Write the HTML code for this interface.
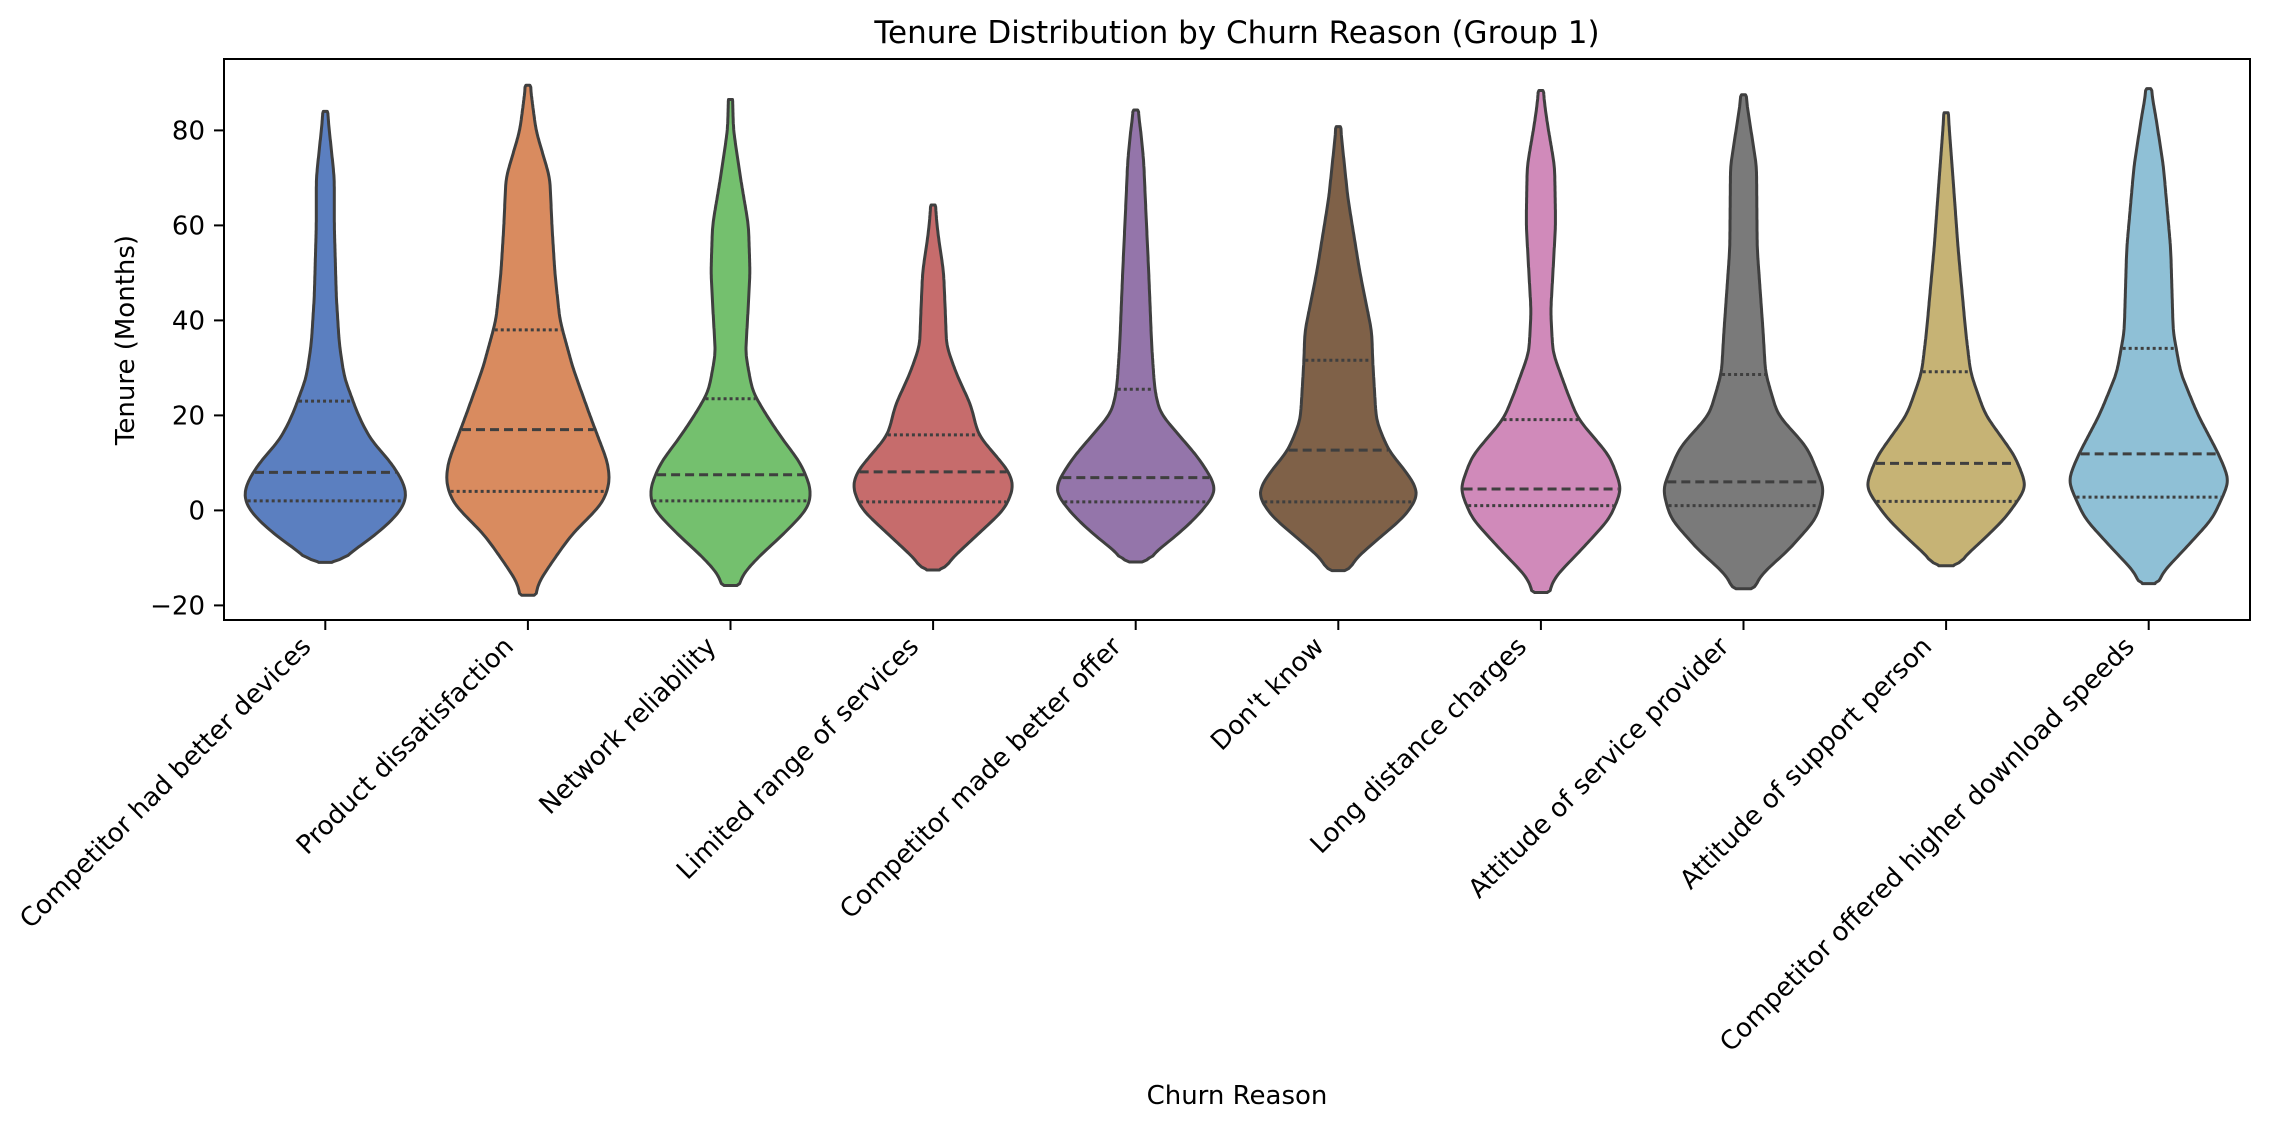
<!DOCTYPE html>
<html><head><meta charset="utf-8"><style>
html,body{margin:0;padding:0;background:#fff}
svg{display:block}
text{font-family:"DejaVu Sans","Liberation Sans",sans-serif;fill:#000}
</style></head><body>
<svg id="s" width="2269" height="1128" viewBox="0 0 2269 1128" xmlns="http://www.w3.org/2000/svg">
<rect width="2269" height="1128" fill="#fff"/>
<text x="1237" y="43" font-size="31" text-anchor="middle">Tenure Distribution by Churn Reason (Group 1)</text>
<g id="v"></g>
<rect x="224" y="59" width="2026" height="561" fill="none" stroke="#000" stroke-width="2"/>
<g id="ax" font-size="26"></g>
<text x="1237" y="1104" font-size="26" text-anchor="middle">Churn Reason</text>
<text transform="translate(134,340) rotate(-90)" font-size="26" text-anchor="middle">Tenure (Months)</text>
</svg>
<script>
const Y=v=>510.4-4.75*v;
const names=["Competitor had better devices","Product dissatisfaction","Network reliability","Limited range of services","Competitor made better offer","Don't know","Long distance charges","Attitude of service provider","Attitude of support person","Competitor offered higher download speeds"];
const cols=["#5b7fc0","#d98b5f","#74c06e","#c66c6c","#9475aa","#7f6148","#d08aba","#7a7a7a","#c6b375","#8fc0d6"];
const D=[
 {p:[[84,2],[78,5],[70,9],[60,9],[45,11],[35,14],[28,19],[20,33],[15,45],[10,66],[6,78],[3,82],[0,76],[-3,62],[-5,51],[-9,25],[-11,6]],q:[2,8,23]},
 {p:[[89.5,2],[85,5],[80,8],[70,22],[60,24],[50,27],[40,32],[30,45],[20,62],[10,80],[6,82],[2,76],[0,68],[-5,44],[-10,27],[-15,11],[-18,6]],q:[4,17,38]},
 {p:[[86.5,2],[80,3],[70,10],[60,18],[50,19.5],[40,17],[33,15],[25,22],[20,36],[15,52],[10,70],[5,80],[2,80],[0,76],[-5,53],[-10,27],[-14,10],[-16,6]],q:[2,7.5,23.5]},
 {p:[[64.3,2],[58,5],[50.2,10.5],[40.8,12.4],[34.6,13.4],[28.4,24],[22.1,38],[15.9,45],[8.1,76.5],[5,81],[0.3,72],[-4.4,48],[-9.1,24],[-12.6,6]],q:[1.8,8.1,15.9]},
 {p:[[84.3,2],[80,5],[73.5,8],[65.7,9.6],[50.2,13],[34.6,16],[25.5,19],[20.6,24],[15.9,43],[11.3,62],[6.6,76.5],[3.9,81],[-1.2,62],[-5.8,38],[-10.9,6]],q:[1.8,6.9,25.5]},
 {p:[[80.8,2],[75,5],[65.7,9.6],[50.2,21.5],[37.6,33.5],[31.4,34.4],[18.9,38],[12.7,50],[7,72],[3.4,81],[-1.2,67],[-5.8,41],[-10,18],[-12.8,6]],q:[1.8,12.7,31.6]},
 {p:[[88.4,2],[82,6],[72.5,13.7],[60.3,14.7],[50,12],[41.9,9.8],[33.2,12],[24.5,27],[19.3,37],[11.4,69],[4.5,81],[-1.7,69],[-8.6,39],[-14,14],[-17.4,6]],q:[1.0,4.5,19.1]},
 {p:[[87.5,2],[82,6],[72.5,13],[55.1,13.7],[37.6,19.6],[28.9,22],[20.2,34],[13.2,64],[4.5,81],[-1.7,73],[-8.6,44],[-13,20],[-16.6,7]],q:[1.0,6.0,28.6]},
 {p:[[83.7,2],[78,4],[72.5,6],[55.1,12],[37.6,19.6],[28.9,24.5],[20.2,39],[11.4,69],[4.9,81],[-1.7,59],[-7.8,29],[-11.7,7]],q:[1.9,9.9,29.2]},
 {p:[[88.8,2],[83,7],[72.5,14.7],[55.1,22],[37.6,24.5],[28.9,32],[20.2,49],[11.4,71],[6.2,81],[-1.7,64],[-8.6,34],[-13,14],[-15.5,6]],q:[2.8,11.9,34.1]}
];
function sample(p){
  const pts=p.map(a=>[Y(a[0]),a[1]]);
  const y0=pts[0][0],y1=pts[pts.length-1][0],raw=[];
  let j=0;
  for(let y=y0;y<=y1;y+=1){
    while(j<pts.length-2&&pts[j+1][0]<y)j++;
    const t=(y-pts[j][0])/(pts[j+1][0]-pts[j][0]);
    raw.push([y,pts[j][1]+Math.max(0,Math.min(1,t))*(pts[j+1][1]-pts[j][1])]);
  }
  const sg=7,out=[];
  for(let i=0;i<raw.length;i++){
    let s=0,w=0;
    for(let k=-21;k<=21;k++){const idx=i+k;if(idx<0||idx>=raw.length)continue;const g=Math.exp(-k*k/(2*sg*sg));s+=g*raw[idx][1];w+=g;}
    let v=s/w;
    // keep tips narrow
    const e=Math.min(i,raw.length-1-i);
    if(e<6)v=Math.min(v,raw[i][1]+ (e<2?0:2));
    out.push([raw[i][0],Math.max(1.5,v)]);
  }
  out[0][1]=2;out[out.length-1][1]=raw[raw.length-1][1];
  return out.filter((q,i)=>i%2==0||i==out.length-1);
}
function hwAt(s,y){for(let i=0;i<s.length-1;i++){if((s[i][0]-y)*(s[i+1][0]-y)<=0){const t=(y-s[i][0])/((s[i+1][0]-s[i][0])||1);return s[i][1]+t*(s[i+1][1]-s[i][1]);}}return 0;}
let h='',a='';
D.forEach((d,i)=>{
  const cx=224+101.3+202.6*i,s=sample(d.p);
  let path='M'+s.map(q=>(cx+q[1]).toFixed(1)+','+q[0].toFixed(1)).join('L');
  path+='L'+s.slice().reverse().map(q=>(cx-q[1]).toFixed(1)+','+q[0].toFixed(1)).join('L')+'Z';
  h+=`<path d="${path}" fill="${cols[i]}" stroke="#3f3f3f" stroke-width="3" stroke-linejoin="round"/>`;
  d.q.forEach((v,k)=>{const y=Y(v),w=hwAt(s,y)-1.5;
    h+=`<line x1="${cx-w}" x2="${cx+w}" y1="${y}" y2="${y}" stroke="#3f3f3f" stroke-width="3" stroke-dasharray="${k==1?'9,5':'3,3'}"/>`;});
  a+=`<line x1="${cx}" x2="${cx}" y1="620" y2="630" stroke="#000" stroke-width="2"/>`;
  a+=`<text transform="translate(${cx-13},648) rotate(-45)" text-anchor="end">${names[i].replace("'","&#39;")}</text>`;
});
[-20,0,20,40,60,80].forEach(v=>{const y=Y(v);
  a+=`<line x1="214" x2="224" y1="${y}" y2="${y}" stroke="#000" stroke-width="2"/>`;
  a+=`<text x="205" y="${y+9}" text-anchor="end">${v<0?'\u2212'+(-v):v}</text>`;});
document.getElementById('v').innerHTML=h;
document.getElementById('ax').innerHTML=a;
</script>
</body></html>
